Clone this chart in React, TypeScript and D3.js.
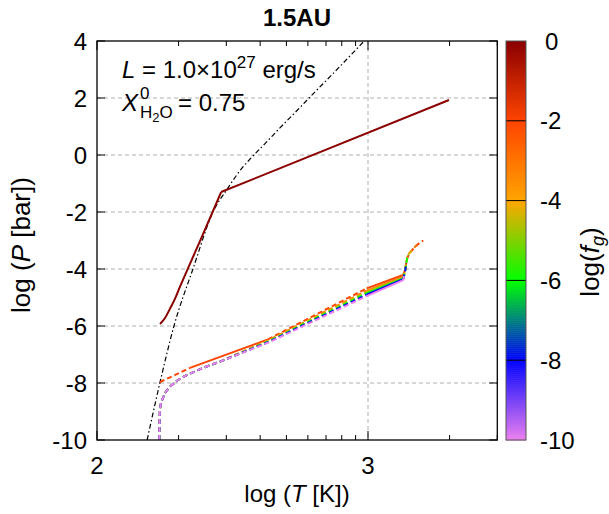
import React from "react";
import * as d3 from "d3";

// ---------- data (log T [K], log P [bar]) ----------
const yTicks = [-10, -8, -6, -4, -2, 0, 2, 4];
const yGrid = [-8, -6, -4, -2, 0, 2];
const xMajorTicks = [2, 3];
const xMinorTemps = [200, 300, 400, 500, 600, 700, 800, 900, 2000, 3000];
const cbTicks = [0, -2, -4, -6, -8, -10];
const cbStops = [-10, -8, -6, -4, -2, 0];
const cbColors = ["violet", "blue", "#00ff00", "orange", "orangered", "darkred"];

// saturation (dash-dot) curve
const satCurve: [number, number][] = [
  [2.185, -10], [2.232, -8], [2.284, -6], [2.354, -4], [2.428, -2],
  [2.483, -1.16], [2.534, -0.47], [2.572, -0.07], [2.62, 0.4], [2.675, 0.95],
  [2.738, 1.56], [2.801, 2.18], [2.86, 2.75], [2.923, 3.37], [2.986, 4.0],
];

// dark-red profile (log f_g = 0): lower curved part and upper straight part
const profileMainLow: [number, number][] = [
  [2.2325, -5.93], [2.251, -5.72], [2.269, -5.4], [2.288, -5.04], [2.306, -4.63],
  [2.343, -3.82], [2.38, -3.02], [2.417, -2.21], [2.458, -1.3],
];
const profileMainHigh: [number, number][] = [[2.458, -1.3], [3.299, 1.93]];

// low-pressure profiles, one per log f_g
const fgValues = [-2, -3, -4.3, -6, -8, -10];
const profFg2: [number, number][] = [
  [2.232, -7.97], [2.343, -7.47], [2.631, -6.47], [2.995, -4.68], [3.13, -4.21],
  [3.137, -4.02], [3.141, -3.8], [3.145, -3.62], [3.152, -3.45], [3.161, -3.36],
  [3.173, -3.22], [3.186, -3.12], [3.204, -3.0],
];
const profFg3: [number, number][] = [
  [2.23, -10], [2.231, -9.3], [2.232, -8.95], [2.236, -8.7], [2.251, -8.35],
  [2.269, -8.13], [2.295, -7.92], [2.331, -7.72], [2.391, -7.47], [2.454, -7.25],
  [2.638, -6.47], [2.995, -4.76], [3.13, -4.28], [3.137, -4.06], [3.141, -3.8],
  [3.145, -3.6], [3.152, -3.45], [3.161, -3.36], [3.173, -3.22], [3.18, -3.17],
];
const profFg4: [number, number][] = [
  [2.23, -10], [2.231, -9.3], [2.232, -8.95], [2.236, -8.7], [2.251, -8.35],
  [2.269, -8.13], [2.295, -7.92], [2.331, -7.72], [2.391, -7.47], [2.454, -7.25],
  [2.638, -6.5], [2.995, -4.8], [3.13, -4.31], [3.137, -4.07], [3.141, -3.8],
  [3.145, -3.6], [3.152, -3.45], [3.161, -3.36],
];
const profFg6: [number, number][] = [
  [2.23, -10], [2.231, -9.3], [2.232, -8.95], [2.236, -8.7], [2.251, -8.35],
  [2.269, -8.13], [2.295, -7.92], [2.331, -7.72], [2.391, -7.47], [2.454, -7.25],
  [2.638, -6.52], [2.995, -4.85], [3.13, -4.33], [3.137, -4.08], [3.141, -3.8],
  [3.145, -3.6], [3.15, -3.5],
];
const profFg8: [number, number][] = [
  [2.23, -10], [2.231, -9.3], [2.232, -8.95], [2.236, -8.7], [2.251, -8.35],
  [2.269, -8.13], [2.295, -7.92], [2.331, -7.72], [2.391, -7.47], [2.454, -7.25],
  [2.638, -6.54], [2.995, -4.9], [3.13, -4.36], [3.137, -4.09], [3.141, -3.8],
];
const profFg10: [number, number][] = [
  [2.23, -10], [2.231, -9.3], [2.232, -8.95], [2.236, -8.7], [2.251, -8.35],
  [2.269, -8.13], [2.295, -7.92], [2.331, -7.72], [2.391, -7.47], [2.454, -7.25],
  [2.638, -6.56], [2.995, -4.95], [3.13, -4.39], [3.133, -4.25],
];
const profiles = [profFg2, profFg3, profFg4, profFg6, profFg8, profFg10];
// log T ranges where each profile is drawn solid
const solidRanges: [number, number][][] = [
  [[2.343, 2.631], [2.995, 3.13]],
  [[2.995, 3.13]],
  [[2.995, 3.13]],
  [[2.995, 3.13]],
  [[2.995, 3.13]],
  [[2.995, 3.13]],
];

// ---------- layout ----------
const W = 609, H = 514;
const L = 97, R = 497.3, T = 41, B = 440;
const CBL = 506, CBR = 526;
const FONT = "Liberation Sans, Arial, Helvetica, sans-serif";

const x = d3.scaleLinear().domain([2, Math.log10(3000)]).range([L, R]);
const y = d3.scaleLinear().domain([-10, 4]).range([B, T]);
const color = d3.scaleLinear<string>().domain(cbStops).range(cbColors).interpolate(d3.interpolateRgb);
const line = d3.line<[number, number]>().x((d) => x(d[0])).y((d) => y(d[1]));
const smooth = d3.line<[number, number]>().x((d) => x(d[0])).y((d) => y(d[1])).curve(d3.curveMonotoneX);

function splitRuns(pts: [number, number][], ranges: [number, number][]) {
  const runs: { solid: boolean; pts: [number, number][] }[] = [];
  for (let i = 0; i < pts.length - 1; i++) {
    const mid = (pts[i][0] + pts[i + 1][0]) / 2;
    const solid = ranges.some(([a, b]) => mid >= a && mid <= b);
    const last = runs[runs.length - 1];
    if (last && last.solid === solid) last.pts.push(pts[i + 1]);
    else runs.push({ solid, pts: [pts[i], pts[i + 1]] });
  }
  return runs;
}

export default function App() {
  const cbSteps = d3.range(0, 200);
  const cbY = d3.scaleLinear().domain([-10, 0]).range([B, T]);
  return (
    <svg width={W} height={H} style={{ position: "absolute", left: 0, top: 0, background: "#fff" }} fontFamily={FONT}>
      <defs>
        <clipPath id="plot">
          <rect x={L} y={T} width={R - L} height={B - T} />
        </clipPath>
      </defs>
      {/* grid */}
      {yGrid.map((v) => (
        <line key={"gy" + v} x1={L} x2={R} y1={y(v)} y2={y(v)} stroke="#b0b0b0" strokeWidth={1} strokeDasharray="4,3" />
      ))}
      <line x1={x(3)} x2={x(3)} y1={T} y2={B} stroke="#b0b0b0" strokeWidth={1} strokeDasharray="4,3" />

      {/* ticks */}
      {yTicks.map((v) => (
        <g key={"ty" + v}>
          <line x1={L} x2={L + 8} y1={y(v)} y2={y(v)} stroke="#000" />
          <line x1={R} x2={R - 8} y1={y(v)} y2={y(v)} stroke="#000" />
        </g>
      ))}
      {xMajorTicks.map((v) => (
        <g key={"tx" + v}>
          <line x1={x(v)} x2={x(v)} y1={B} y2={B - 9} stroke="#000" />
          <line x1={x(v)} x2={x(v)} y1={T} y2={T + 9} stroke="#000" />
        </g>
      ))}
      {xMinorTemps.map((t) => (
        <g key={"tm" + t}>
          <line x1={x(Math.log10(t))} x2={x(Math.log10(t))} y1={B} y2={B - 5} stroke="#000" />
          <line x1={x(Math.log10(t))} x2={x(Math.log10(t))} y1={T} y2={T + 5} stroke="#000" />
        </g>
      ))}

      <g clipPath="url(#plot)">
        <path d={smooth(satCurve) || ""} fill="none" stroke="#000" strokeWidth={1.2} strokeDasharray="5,2.5,1.5,2.5" />
        <path d={smooth(profileMainLow) || ""} fill="none" stroke={color(0)} strokeWidth={2} />
        <path d={line(profileMainHigh) || ""} fill="none" stroke={color(0)} strokeWidth={2} />
        {profiles.map((p, i) =>
          splitRuns(p, solidRanges[i]).map((run, j) => (
            <path
              key={"p" + i + "_" + j}
              d={line(run.pts) || ""}
              fill="none"
              stroke={color(fgValues[i])}
              strokeWidth={2}
              strokeDasharray={run.solid ? undefined : "5,3"}
            />
          ))
        )}
      </g>

      {/* border */}
      <rect x={L} y={T} width={R - L} height={B - T} fill="none" stroke="#000" strokeWidth={1.3} />

      {/* tick labels */}
      {yTicks.map((v) => (
        <text key={"ly" + v} x={87} y={y(v) + 8.5} fontSize={24} textAnchor="end">{v}</text>
      ))}
      {xMajorTicks.map((v) => (
        <text key={"lx" + v} x={x(v)} y={474} fontSize={24} textAnchor="middle">{v}</text>
      ))}

      {/* title & axis labels */}
      <text x={297} y={26} fontSize={24} fontWeight="bold" textAnchor="middle">1.5AU</text>
      <text x={297} y={502} fontSize={24} textAnchor="middle">
        log (<tspan fontStyle="italic">T</tspan> [K])
      </text>
      <text transform="translate(30,245) rotate(-90)" fontSize={26} textAnchor="middle">
        log (<tspan fontStyle="italic">P</tspan> [bar])
      </text>

      {/* annotations */}
      <text x={122} y={78} fontSize={24}>
        <tspan fontStyle="italic">L</tspan> = 1.0×10<tspan fontSize={17} dy={-10}>27</tspan>
        <tspan dy={10}> erg/s</tspan>
      </text>
      <text x={122} y={111} fontSize={24}>
        <tspan fontStyle="italic">X</tspan>
      </text>
      <text x={140} y={99} fontSize={17}>0</text>
      <text x={140} y={118} fontSize={17}>
        H<tspan fontSize={13} dy={4}>2</tspan><tspan dy={-4}>O</tspan>
      </text>
      <text x={178} y={111} fontSize={24}> = 0.75</text>

      {/* colorbar */}
      {cbSteps.map((i) => {
        const v0 = -10 + (i * 10) / cbSteps.length;
        const v1 = -10 + ((i + 1) * 10) / cbSteps.length;
        return (
          <rect key={"cb" + i} x={CBL} width={CBR - CBL} y={cbY(v1)} height={cbY(v0) - cbY(v1) + 0.6}
            fill={color((v0 + v1) / 2)} />
        );
      })}
      {cbTicks.filter((v) => v !== 0 && v !== -10).map((v) => (
        <line key={"cbt" + v} x1={CBL} x2={CBR} y1={cbY(v)} y2={cbY(v)} stroke="#000" strokeWidth={1} />
      ))}
      <rect x={CBL} y={T} width={CBR - CBL} height={B - T} fill="none" stroke="#555" strokeWidth={1} />
      {cbTicks.map((v) => (
        <text key={"cbl" + v} x={v === 0 ? 545 : 540} y={cbY(v) + 8.5} fontSize={24}>{v}</text>
      ))}
      <text transform="translate(599,262) rotate(-90)" fontSize={26} textAnchor="middle">
        log(<tspan fontStyle="italic">f</tspan><tspan fontStyle="italic" fontSize={18} dy={5}>g</tspan><tspan dy={-5}>)</tspan>
      </text>
    </svg>
  );
}
